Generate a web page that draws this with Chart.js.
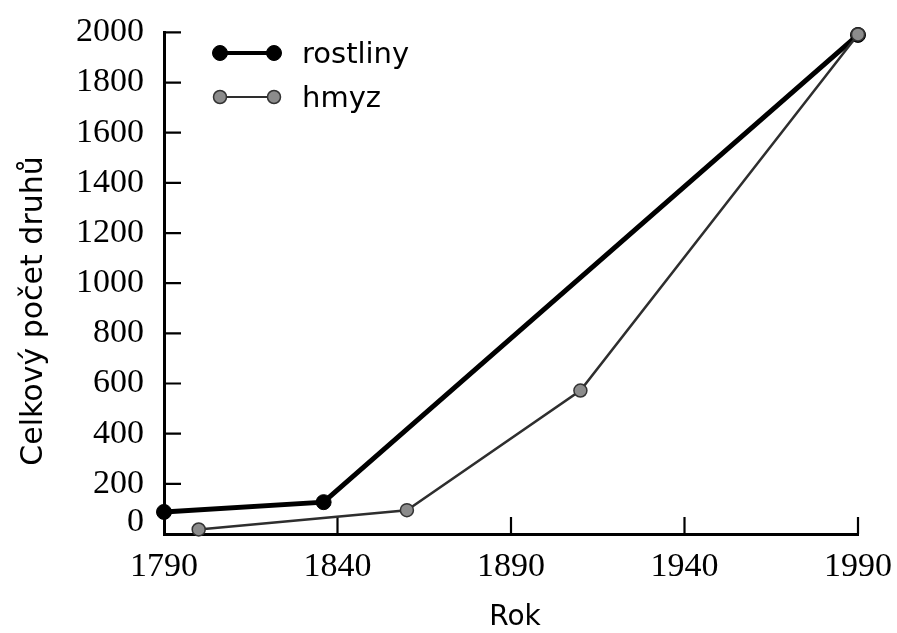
<!DOCTYPE html>
<html>
<head>
<meta charset="utf-8">
<script src="https://cdn.jsdelivr.net/npm/chart.js@4.4.0/dist/chart.umd.min.js"></script>
<style>
  html, body { margin: 0; background: #fff; }
  #wrap { width: 897px; height: 633px; }
</style>
</head>
<body>
<div id="wrap"><canvas id="chart"></canvas></div>
<script>
// data
const plantYears   = [1790, 1836, 1990];
const plantCounts  = [88, 127, 1990];
const insectYears  = [1800, 1860, 1910, 1990];
const insectCounts = [18, 95, 572, 1992];
const yearTicks  = [1790, 1840, 1890, 1940, 1990];
const countTicks = [0, 200, 400, 600, 800, 1000, 1200, 1400, 1600, 1800, 2000];
const seriesNames = ['rostliny', 'hmyz'];
const xTitle = 'Rok';
const yTitle = 'Celkový počet druhů';

const serif = 'Liberation Serif, Times New Roman, serif';
const sans  = 'DejaVu Sans, Arial, sans-serif';

function pairs(xs, ys){ return xs.map((x, i) => ({ x, y: ys[i] })); }

// tick marks, legend and axis titles
const decor = {
  id: 'decor',
  beforeDatasetsDraw(chart){
    const { ctx, chartArea: a, scales: { x, y } } = chart;
    ctx.save();
    ctx.strokeStyle = '#000';
    ctx.lineWidth = 2.2;
    ctx.beginPath();
    yearTicks.slice(1).forEach(v => {
      const px = x.getPixelForValue(v);
      ctx.moveTo(px, a.bottom); ctx.lineTo(px, a.bottom - 17);
    });
    countTicks.slice(1).forEach(v => {
      const py = y.getPixelForValue(v);
      ctx.moveTo(a.left, py); ctx.lineTo(a.left + 17, py);
    });
    ctx.stroke();
    ctx.restore();
  },
  afterDraw(chart){
    const { ctx } = chart;
    ctx.save();
    // legend
    const rows = [53, 97];
    chart.data.datasets.forEach((ds, i) => {
      const yy = rows[i];
      ctx.strokeStyle = ds.borderColor;
      ctx.lineWidth = i === 0 ? 4 : 2;
      ctx.beginPath(); ctx.moveTo(220, yy); ctx.lineTo(274, yy); ctx.stroke();
      [220, 274].forEach(cx => {
        ctx.beginPath();
        ctx.arc(cx, yy, ds.pointRadius, 0, Math.PI * 2);
        ctx.fillStyle = ds.pointBackgroundColor;
        ctx.fill();
        ctx.lineWidth = ds.pointBorderWidth;
        ctx.strokeStyle = ds.pointBorderColor;
        ctx.stroke();
      });
      ctx.fillStyle = '#000';
      ctx.font = '29px ' + sans;
      ctx.textAlign = 'left';
      ctx.textBaseline = 'alphabetic';
      ctx.fillText(ds.label, 302, yy + 9.5);
    });
    // axis titles
    ctx.fillStyle = '#000';
    ctx.font = '28px ' + sans;
    ctx.textAlign = 'center';
    ctx.textBaseline = 'alphabetic';
    ctx.fillText(xTitle, 515, 625);
    ctx.translate(42, 311);
    ctx.rotate(-Math.PI / 2);
    ctx.font = '30px ' + sans;
    ctx.fillText(yTitle, 0, 0);
    ctx.restore();
  }
};

new Chart(document.getElementById('chart'), {
  type: 'line',
  data: {
    datasets: [
      {
        label: seriesNames[0],
        data: pairs(plantYears, plantCounts),
        borderColor: '#000',
        borderWidth: 5,
        pointRadius: 7.5,
        pointBackgroundColor: '#000',
        pointBorderColor: '#000',
        pointBorderWidth: 1,
        tension: 0,
        clip: false,
        order: 1
      },
      {
        label: seriesNames[1],
        data: pairs(insectYears, insectCounts),
        borderColor: '#2e2e2e',
        borderWidth: 2.5,
        pointRadius: 6.5,
        pointBackgroundColor: '#8c8c8c',
        pointBorderColor: '#333',
        pointBorderWidth: 1.5,
        tension: 0,
        clip: false,
        order: 0
      }
    ]
  },
  options: {
    responsive: true,
    maintainAspectRatio: false,
    animation: false,
    devicePixelRatio: 1,
    layout: { padding: { top: 27, right: 38, left: 0, bottom: 0 } },
    plugins: { legend: { display: false }, tooltip: { enabled: false } },
    scales: {
      x: {
        type: 'linear',
        min: 1790,
        max: 1990,
        afterBuildTicks: s => { s.ticks = yearTicks.map(v => ({ value: v })); },
        afterFit: s => { s.height = 99; },
        grid: { display: false },
        border: { display: true, color: '#000', width: 3 },
        ticks: {
          color: '#000',
          padding: 5,
          maxRotation: 0,
          autoSkip: false,
          font: { family: serif, size: 34 },
          callback: v => String(v)
        }
      },
      y: {
        type: 'linear',
        min: 0,
        max: 2000,
        afterBuildTicks: s => { s.ticks = countTicks.map(v => ({ value: v })); },
        afterFit: s => { s.width = 164; },
        grid: { display: false },
        border: { display: true, color: '#000', width: 3 },
        ticks: {
          color: '#000',
          padding: 12,
          autoSkip: false,
          // the 0 label sits a little above the axis in the original
          font: c => (c.tick && c.tick.value === 0)
            ? { family: serif, size: 34, lineHeight: 0.72 }
            : { family: serif, size: 34 },
          callback: v => v === 0 ? ['0', ''] : String(v)
        }
      }
    }
  },
  plugins: [decor]
});
</script>
</body>
</html>
